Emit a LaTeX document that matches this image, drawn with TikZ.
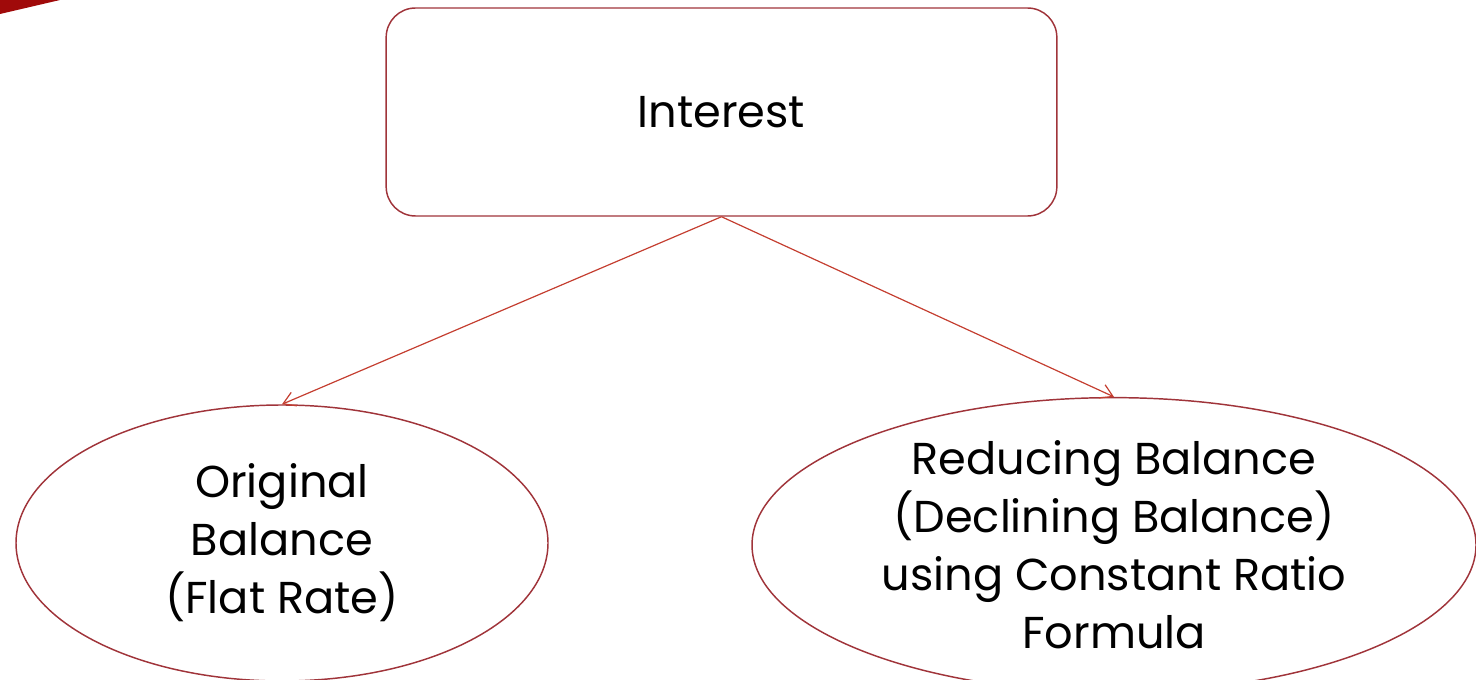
\documentclass[tikz,border=0pt]{standalone}
\usepackage{fontspec}
\setmainfont{Poppins}
\usepackage{tikz}
\usetikzlibrary{arrows.meta,positioning,shapes.geometric}
\definecolor{edgered}{RGB}{160,52,58}
\definecolor{linkred}{RGB}{196,62,48}
\definecolor{cornerred}{RGB}{160,10,10}
\tikzset{
  topbox/.style={draw=edgered, line width=1.1pt, rounded corners=22pt, align=center,
               minimum width=503pt, minimum height=156pt, inner sep=0pt,
               font=\fontsize{33.5}{43.5}\selectfont},
  ovalbox/.style={draw=edgered, ellipse, line width=1.1pt, align=center, inner sep=0pt,
               minimum height=207pt, font=\fontsize{33.5}{43.5}\selectfont},
  flow/.style={-{Straight Barb[length=9pt,width=11pt]}, draw=linkred, line width=0.9pt},
}
\begin{document}
\begin{tikzpicture}[x=0.75pt,y=-0.75pt]
  \useasboundingbox (0,0) rectangle (1476,680);
  \clip (0,0) rectangle (1476,680);
  % slide decoration in the corner
  \fill[cornerred] (0,0) -- (60,0) -- (0,14) -- cycle;
  \node[topbox] (interest) at (721.5,112) {Interest};
  \node[ovalbox, minimum width=399pt] (flat) at (282,543) {Original\\ Balance\\ (Flat Rate)};
  \node[ovalbox, minimum width=543pt] (reduce) at (1114,545) {Reducing Balance\\ (Declining Balance)\\ using Constant Ratio\\ Formula};
  \draw[flow] (interest.south) -- (flat.north);
  \draw[flow] (interest.south) -- (reduce.north);
\end{tikzpicture}
\end{document}
